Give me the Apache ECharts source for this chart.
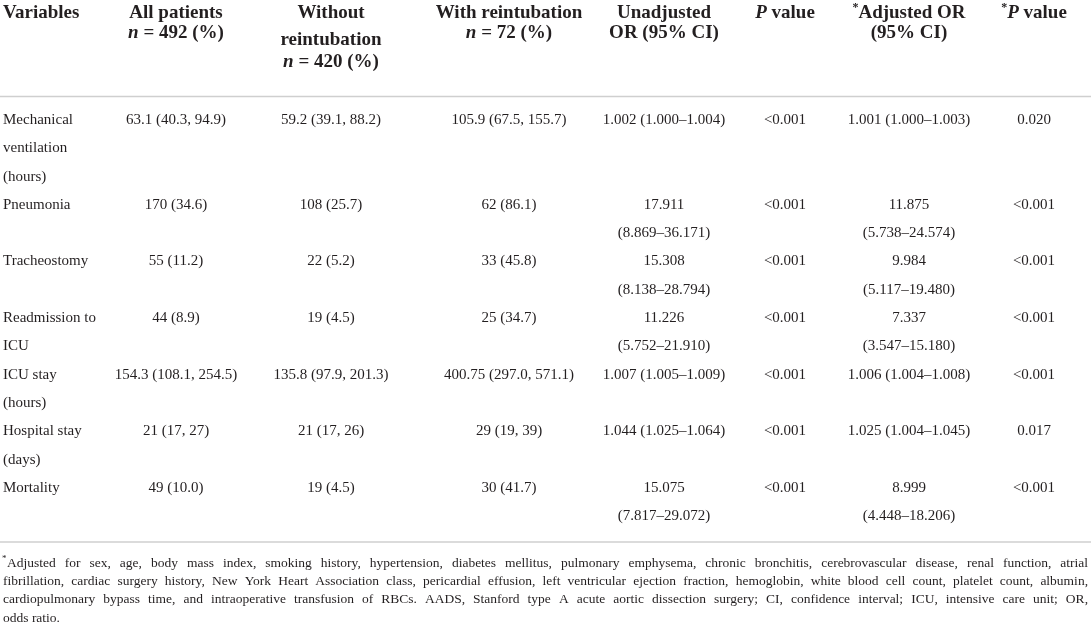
<!DOCTYPE html>
<html><head><meta charset="utf-8">
<script src="https://cdn.jsdelivr.net/npm/echarts@6/dist/echarts.min.js"></script>
<style>html,body{margin:0;padding:0;background:#fff}#c{width:1091px;height:630px}</style>
</head><body><div id="c"></div>
<script>
// ---------- DATA ----------
const headers = [
  ["Variables"],
  ["All patients", "{bi|n} = 492 (%)"],
  ["Without", "reintubation", "{bi|n} = 420 (%)"],
  ["With reintubation", "{bi|n} = 72 (%)"],
  ["Unadjusted", "OR (95% CI)"],
  ["{bi|P} value"],
  ["{sup|*}Adjusted OR", "(95% CI)"],
  ["{sup|*}{bi|P} value"]
];
const variables = ["Mechanical\nventilation\n(hours)", "Pneumonia", "Tracheostomy", "Readmission to\nICU", "ICU stay\n(hours)", "Hospital stay\n(days)", "Mortality"];
const allPatients = ["63.1 (40.3, 94.9)", "170 (34.6)", "55 (11.2)", "44 (8.9)", "154.3 (108.1, 254.5)", "21 (17, 27)", "49 (10.0)"];
const withoutReintubation = ["59.2 (39.1, 88.2)", "108 (25.7)", "22 (5.2)", "19 (4.5)", "135.8 (97.9, 201.3)", "21 (17, 26)", "19 (4.5)"];
const withReintubation = ["105.9 (67.5, 155.7)", "62 (86.1)", "33 (45.8)", "25 (34.7)", "400.75 (297.0, 571.1)", "29 (19, 39)", "30 (41.7)"];
const unadjustedOR = ["1.002 (1.000–1.004)", "17.911\n(8.869–36.171)", "15.308\n(8.138–28.794)", "11.226\n(5.752–21.910)", "1.007 (1.005–1.009)", "1.044 (1.025–1.064)", "15.075\n(7.817–29.072)"];
const pValue = ["<0.001", "<0.001", "<0.001", "<0.001", "<0.001", "<0.001", "<0.001"];
const adjustedOR = ["1.001 (1.000–1.003)", "11.875\n(5.738–24.574)", "9.984\n(5.117–19.480)", "7.337\n(3.547–15.180)", "1.006 (1.004–1.008)", "1.025 (1.004–1.045)", "8.999\n(4.448–18.206)"];
const adjustedP = ["0.020", "<0.001", "<0.001", "<0.001", "<0.001", "0.017", "<0.001"];
const footnoteMark = "*";
const footnoteLines = [
  "Adjusted for sex, age, body mass index, smoking history, hypertension, diabetes mellitus, pulmonary emphysema, chronic bronchitis, cerebrovascular disease, renal function, atrial",
  "fibrillation, cardiac surgery history, New York Heart Association class, pericardial effusion, left ventricular ejection fraction, hemoglobin, white blood cell count, platelet count, albumin,",
  "cardiopulmonary bypass time, and intraoperative transfusion of RBCs. AADS, Stanford type A acute aortic dissection surgery; CI, confidence interval; ICU, intensive care unit; OR,",
  "odds ratio."
];

// ---------- LAYOUT ----------
const W = 1091, H = 630;
const FAMILY = "'Liberation Serif', 'Times New Roman', serif";
const INK = '#231f20';
const colX = [3, 176, 331, 509, 664, 785, 909, 1034];
const headerY2 = [13, 33.5];
const headerY3 = [13, 40, 62];
const bodyTop = 120, lineH = 28.3;
const ruleTop = 96.5, ruleBottom = 542;
const footTop = 563, footStep = 18.4, footLeft = 3, footRight = 1088, footFirstIndent = 7;
const headSize = 19, bodySize = 15, footSize = 13.5;

const columns = [variables, allPatients, withoutReintubation, withReintubation, unadjustedOR, pValue, adjustedOR, adjustedP];

const cells = [];
headers.forEach((lines, c) => {
  const ys = lines.length === 3 ? headerY3 : (lines.length === 2 ? headerY2 : [13]);
  lines.forEach((t, k) => cells.push({ x: colX[c], y: ys[k], text: t, align: c === 0 ? 'left' : 'center', head: true }));
});
let lineCursor = 0;
variables.forEach((v, r) => {
  const counts = columns.map(col => col[r].split('\n').length);
  const n = Math.max.apply(null, counts);
  columns.forEach((col, c) => {
    col[r].split('\n').forEach((t, k) => {
      cells.push({ x: colX[c], y: bodyTop + (lineCursor + k) * lineH, text: t, align: c === 0 ? 'left' : 'center', head: false });
    });
  });
  lineCursor += n;
});

const headRich = {
  b: { fontFamily: FAMILY, fontSize: headSize, fontWeight: 'bold', fill: INK, lineHeight: 22 },
  bi: { fontFamily: FAMILY, fontSize: headSize, fontWeight: 'bold', fontStyle: 'italic', fill: INK, lineHeight: 22 },
  sup: { fontFamily: FAMILY, fontSize: 12, fontWeight: 'bold', fill: INK, lineHeight: 12, verticalAlign: 'top' }
};

// ---------- FOOTNOTE (justified) ----------
const ctx = document.createElement('canvas').getContext('2d');
const footFont = footSize + 'px ' + FAMILY;
ctx.font = footFont;
const graphics = [
  { type: 'line', shape: { x1: 0, y1: ruleTop, x2: W, y2: ruleTop }, style: { stroke: '#cfcfcf', lineWidth: 1.5 } },
  { type: 'line', shape: { x1: 0, y1: ruleBottom, x2: W, y2: ruleBottom }, style: { stroke: '#cfcfcf', lineWidth: 1.5 } },
  { type: 'text', x: footLeft - 1, y: footTop - 4, style: { text: footnoteMark, font: '9px ' + FAMILY, fill: INK, verticalAlign: 'middle' } }
];
footnoteLines.forEach((line, i) => {
  const y = footTop + i * footStep;
  const left = i === 0 ? footLeft + footFirstIndent - 3 : footLeft;
  const words = line.split(' ');
  const widths = words.map(w => ctx.measureText(w).width);
  const total = widths.reduce((a, b) => a + b, 0);
  const last = i === footnoteLines.length - 1;
  const gap = last ? ctx.measureText(' ').width : (footRight - left - total) / (words.length - 1);
  let x = left;
  words.forEach((w, k) => {
    graphics.push({ type: 'text', x: x, y: y, style: { text: w, font: footFont, fill: INK, verticalAlign: 'middle' } });
    x += widths[k] + gap;
  });
});

// ---------- CHART ----------
const chart = echarts.init(document.getElementById('c'), null, { renderer: 'canvas' });
chart.setOption({
  animation: false,
  backgroundColor: '#fff',
  grid: { left: 0, right: 0, top: 0, bottom: 0 },
  xAxis: { type: 'value', min: 0, max: W, show: false },
  yAxis: { type: 'value', min: 0, max: H, inverse: true, show: false },
  graphic: graphics,
  series: [{
    type: 'custom',
    clip: false,
    silent: true,
    data: cells.map(c => [c.x, c.y]),
    renderItem: function (params, api) {
      const c = cells[params.dataIndex];
      const p = api.coord([api.value(0), api.value(1)]);
      const style = c.head
        ? { text: c.text.indexOf('{') === -1 ? '{b|' + c.text + '}' : c.text.replace(/\}([^{]+)$/, '}{b|$1}'), rich: headRich, align: c.align, verticalAlign: 'middle' }
        : { text: c.text, font: bodySize + 'px ' + FAMILY, fill: INK, align: c.align, verticalAlign: 'middle' };
      return { type: 'text', x: p[0], y: p[1], style: style };
    }
  }]
});
</script>
</body></html>
